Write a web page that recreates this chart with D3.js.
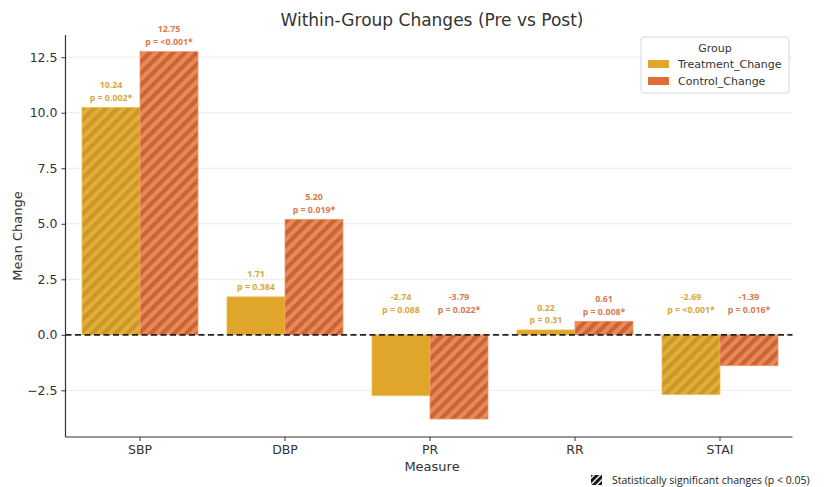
<!DOCTYPE html>
<html>
<head>
<meta charset="utf-8">
<script src="https://cdn.jsdelivr.net/npm/d3@7"></script>
<style>
  html, body { margin: 0; padding: 0; background: #fff; }
  svg { display: block; }
</style>
</head>
<body>
<svg id="chart" width="837" height="487"></svg>
<script>
// Mean within-group change for each measure
const measures = ["SBP", "DBP", "PR", "RR", "STAI"];
const groups = ["Treatment_Change", "Control_Change"];
const treatmentChange = [10.24, 1.71, -2.74, 0.22, -2.69];
const controlChange = [12.75, 5.20, -3.79, 0.61, -1.39];
const treatmentP = ["0.002*", "0.384", "0.088", "0.31", "<0.001*"];
const controlP = ["<0.001*", "0.019*", "0.022*", "0.008*", "0.016*"];
const yTicks = [-2.5, 0.0, 2.5, 5.0, 7.5, 10.0, 12.5];

const colors = {
  Treatment_Change: { fill: "#E0A62B", hatchBase: "#E4AE35", stripe: "#C9972B", text: "#D9A840", edge: "#EFC04E" },
  Control_Change:   { fill: "#E06C38", hatchBase: "#E9895B", stripe: "#CA6431", text: "#D97A50", edge: "#F09A6E" }
};

const rows = [];
measures.forEach((m, i) => {
  rows.push({ measure: m, group: groups[0], value: treatmentChange[i], p: treatmentP[i] });
  rows.push({ measure: m, group: groups[1], value: controlChange[i], p: controlP[i] });
});
rows.forEach(d => { d.sig = d.p.endsWith("*"); });

const svg = d3.select("#chart");
const font = "'DejaVu Sans', sans-serif";
const plotLeft = 67.5, plotRight = 792.5, plotTop = 35, plotBottom = 437;

const x = d3.scaleBand().domain(measures).range([plotLeft, plotRight]).paddingInner(0.2).paddingOuter(0.1);
const xg = d3.scaleBand().domain(groups).range([0, x.bandwidth()]);
const y = d3.scaleLinear().domain([-4.6, 13.5]).range([plotBottom, plotTop]);

// Stripe patterns for significant bars
const defs = svg.append("defs");
const period = 8.3;
groups.forEach((g, i) => {
  const p = defs.append("pattern")
    .attr("id", "hatch" + i)
    .attr("patternUnits", "userSpaceOnUse")
    .attr("width", period).attr("height", period)
    .attr("patternTransform", "rotate(45)");
  p.append("rect").attr("width", period).attr("height", period).attr("fill", colors[g].hatchBase);
  p.append("rect").attr("width", period / 2).attr("height", period).attr("fill", colors[g].stripe);
});
const icon = defs.append("pattern")
  .attr("id", "hatchIcon")
  .attr("patternUnits", "userSpaceOnUse")
  .attr("width", 4.4).attr("height", 4.4)
  .attr("patternTransform", "rotate(45)");
icon.append("rect").attr("width", 3).attr("height", 4.4).attr("fill", "#111");

// Horizontal gridlines
svg.append("g").selectAll("line").data(yTicks).join("line")
  .attr("x1", plotLeft - 2).attr("x2", plotRight)
  .attr("y1", d => y(d)).attr("y2", d => y(d))
  .attr("stroke", "#cfcfcf").attr("stroke-width", 0.8)
  .attr("stroke-dasharray", "2,2");

// Bars
svg.append("g").selectAll("rect").data(rows).join("rect")
  .attr("x", d => x(d.measure) + xg(d.group))
  .attr("width", xg.bandwidth())
  .attr("y", d => y(Math.max(0, d.value)))
  .attr("height", d => Math.abs(y(d.value) - y(0)))
  .attr("fill", d => d.sig ? "url(#hatch" + groups.indexOf(d.group) + ")" : colors[d.group].fill)
  .attr("stroke", d => colors[d.group].edge)
  .attr("stroke-width", 0.8);

// Zero reference line
svg.append("line")
  .attr("x1", plotLeft - 2).attr("x2", plotRight)
  .attr("y1", y(0)).attr("y2", y(0))
  .attr("stroke", "#222").attr("stroke-width", 1.6)
  .attr("stroke-dasharray", "6,3.5");

// Value and p-value labels
const labels = svg.append("g").selectAll("text").data(rows).join("text")
  .attr("x", d => x(d.measure) + xg(d.group) + xg.bandwidth() / 2)
  .attr("y", d => d.value >= 0 ? y(d.value + 0.3) : y(1.0))
  .attr("text-anchor", "middle")
  .attr("font-family", "'Open Sans', sans-serif")
  .attr("font-weight", "bold")
  .attr("font-size", 8.8)
  .attr("fill", d => colors[d.group].text);
labels.append("tspan").attr("x", function() { return d3.select(this.parentNode).attr("x"); })
  .attr("dy", "-1.45em").text(d => d.value.toFixed(2));
labels.append("tspan").attr("x", function() { return d3.select(this.parentNode).attr("x"); })
  .attr("dy", "1.45em").text(d => "p = " + d.p);

// Axes
const yAxis = svg.append("g").attr("transform", `translate(${plotLeft - 2},0)`)
  .call(d3.axisLeft(y).tickValues(yTicks).tickFormat(d => d < 0 ? "\u2212" + Math.abs(d).toFixed(1) : d.toFixed(1)).tickSize(4).tickPadding(4));
yAxis.select(".domain").attr("d", `M0,${plotTop}V${plotBottom}`);
const xAxis = svg.append("g").attr("transform", `translate(0,${plotBottom})`)
  .call(d3.axisBottom(x).tickSize(4).tickPadding(4));
xAxis.select(".domain").attr("d", `M${plotLeft - 2},0H${plotRight}`);
[yAxis, xAxis].forEach(a => {
  a.selectAll(".domain").attr("stroke", "#333").attr("stroke-width", 1.2);
  a.selectAll(".tick line").attr("stroke", "#333").attr("stroke-width", 1);
  a.selectAll(".tick text").attr("font-family", font).attr("font-size", 12.5).attr("fill", "#333");
});

// Titles
svg.append("text").attr("x", 432).attr("y", 26).attr("text-anchor", "middle")
  .attr("font-family", font).attr("font-size", 17).attr("fill", "#333")
  .text("Within-Group Changes (Pre vs Post)");
svg.append("text").attr("x", 432).attr("y", 471).attr("text-anchor", "middle")
  .attr("font-family", font).attr("font-size", 13).attr("fill", "#333")
  .text("Measure");
svg.append("text").attr("transform", "translate(22,236) rotate(-90)").attr("text-anchor", "middle")
  .attr("font-family", font).attr("font-size", 13).attr("fill", "#333")
  .text("Mean Change");

// Legend
const lg = svg.append("g").attr("transform", "translate(641,37)");
lg.append("rect").attr("width", 148).attr("height", 56).attr("rx", 3)
  .attr("fill", "#fff").attr("fill-opacity", 0.85).attr("stroke", "#d8d8d8");
lg.append("text").attr("x", 74).attr("y", 15).attr("text-anchor", "middle")
  .attr("font-family", font).attr("font-size", 11).attr("fill", "#333").text("Group");
groups.forEach((g, i) => {
  lg.append("rect").attr("x", 7).attr("y", 23 + i * 17).attr("width", 21).attr("height", 8)
    .attr("fill", colors[g].fill);
  lg.append("text").attr("x", 37).attr("y", 31 + i * 17)
    .attr("font-family", font).attr("font-size", 11).attr("fill", "#333").text(g);
});

// Significance note
svg.append("rect").attr("x", 591).attr("y", 475).attr("width", 11).attr("height", 10)
  .attr("fill", "url(#hatchIcon)");
svg.append("text").attr("x", 612).attr("y", 484)
  .attr("font-family", "'Open Sans', sans-serif").attr("font-size", 10.5).attr("fill", "#222")
  .text("Statistically significant changes (p < 0.05)");
</script>
</body>
</html>
